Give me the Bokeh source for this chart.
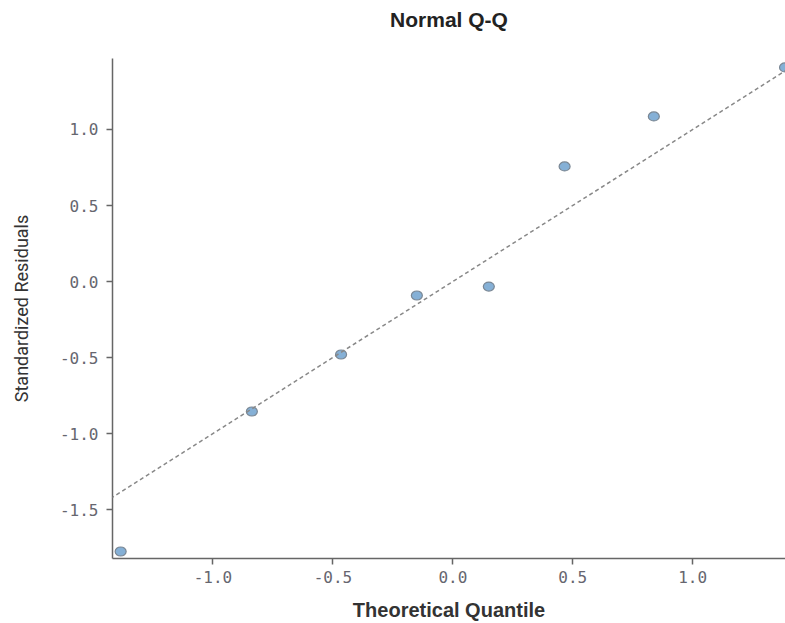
from bokeh.plotting import figure
from bokeh.models import Range1d, Slope, FixedTicker, ColumnDataSource, PrintfTickFormatter, Title
from bokeh.embed import file_html
from bokeh.resources import INLINE

# Data
theoretical_quantiles = [-1.385, -0.838, -0.466, -0.150, 0.150, 0.466, 0.838, 1.385]
standardized_residuals = [-1.776, -0.855, -0.480, -0.092, -0.033, 0.757, 1.086, 1.408]
x_ticks = [-1.0, -0.5, 0.0, 0.5, 1.0]
y_ticks = [-1.5, -1.0, -0.5, 0.0, 0.5, 1.0]
title_text = "Normal Q-Q"

p = figure(width=785, height=623, output_backend="svg", toolbar_location=None,
           x_range=Range1d(-1.419, 1.387), y_range=Range1d(-1.822, 1.467),
           min_border_left=112, min_border_right=0, min_border_top=58, min_border_bottom=65)

p.outline_line_color = None
p.xgrid.visible = False
p.ygrid.visible = False
p.background_fill_color = "white"
p.border_fill_color = "white"

# spacer between frame and title, then the title itself
p.add_layout(Title(text=" ", text_font_size="1px", standoff=20), "above")
p.add_layout(Title(text=title_text, align="center", vertical_align="bottom", standoff=10,
                   text_font="Liberation Sans", text_font_size="21px",
                   text_font_style="bold", text_color="#222222"), "above")

# reference line y = x
p.add_layout(Slope(gradient=1, y_intercept=0, line_color="#888888",
                   line_width=1.5, line_dash="4 3"))

src = ColumnDataSource(dict(x=theoretical_quantiles, y=standardized_residuals))
p.ellipse(x="x", y="y", width=11, height=9, width_units="screen", height_units="screen",
          source=src, fill_color="#85b0d6", line_color="#7a8794", line_width=1.2)

for ax in (p.xaxis[0], p.yaxis[0]):
    ax.axis_line_color = "#666666"
    ax.axis_line_width = 1.5
    ax.major_tick_line_color = "#666666"
    ax.major_tick_line_width = 1.5
    ax.major_tick_out = 6
    ax.major_tick_in = 0
    ax.minor_tick_line_color = None
    ax.major_label_text_font = "DejaVu Sans Mono"
    ax.major_label_text_font_size = "16px"
    ax.major_label_text_color = "#66666f"
    ax.axis_label_text_color = "#333333"
    ax.axis_label_text_font_style = "normal"

p.xaxis.ticker = FixedTicker(ticks=x_ticks)
p.yaxis.ticker = FixedTicker(ticks=y_ticks)
p.xaxis.formatter = PrintfTickFormatter(format="%.1f")
p.yaxis.formatter = PrintfTickFormatter(format="%.1f")
p.xaxis.major_label_standoff = 6
p.yaxis.major_label_standoff = 8

p.xaxis.axis_label = "Theoretical Quantile"
p.xaxis.axis_label_text_font = "Liberation Sans"
p.xaxis.axis_label_text_font_size = "20px"
p.xaxis.axis_label_text_font_style = "bold"
p.xaxis.axis_label_standoff = 13

p.yaxis.axis_label = "Standardized Residuals"
p.yaxis.axis_label_text_font = "Roboto"
p.yaxis.axis_label_text_font_size = "18px"
p.yaxis.axis_label_standoff = 25

open("out.html", "w").write(file_html(p, INLINE))
